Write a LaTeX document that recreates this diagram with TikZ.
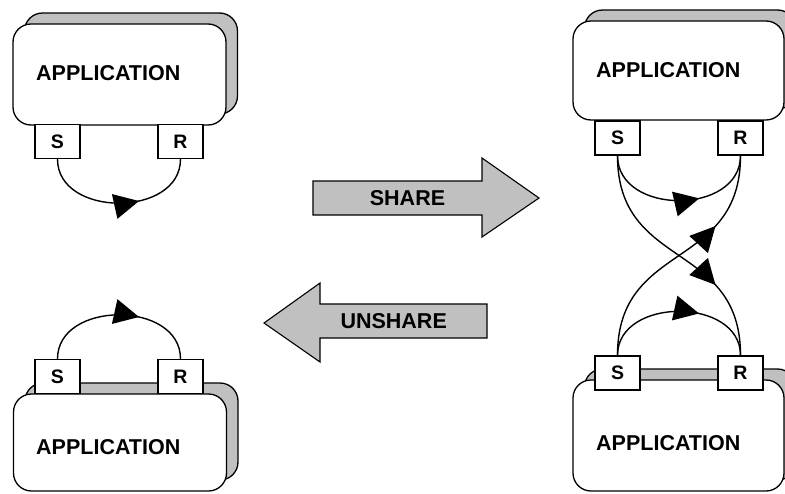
\documentclass[tikz,border=0pt]{standalone}
\usepackage{fontspec}
\setmainfont{Liberation Sans}
\usetikzlibrary{arrows.meta,decorations.markings}
\definecolor{shgray}{RGB}{192,192,192}
\begin{document}
\begin{tikzpicture}[x=1pt,y=-1pt,
  shadowbox/.style={draw,line width=1.3pt,rounded corners=18pt,fill=shgray,inner sep=0pt},
  appbox/.style={draw,line width=1.3pt,rounded corners=18pt,fill=white,inner sep=0pt},
  apptext/.style={anchor=west,inner sep=0pt,font=\bfseries\fontsize{21.5}{24}\selectfont},
  port/.style={draw,line width=1.3pt,fill=white,minimum width=45pt,minimum height=34pt,inner sep=0pt,font=\bfseries\fontsize{19.5}{22}\selectfont},
  link/.style={line width=1.4pt},
  midarrow/.style={postaction={decorate,decoration={markings,mark=at position #1 with {\arrow{Triangle[length=25pt,width=25pt]}}}}},
  blockarrow/.style={draw,line width=1.1pt,fill=shgray},
  arrowtext/.style={inner sep=0pt,font=\bfseries\fontsize{21.5}{24}\selectfont}]
\useasboundingbox (0,0) rectangle (785,493);
\clip (0,0) rectangle (785,493);

% top-left application
\node[shadowbox,minimum width=213pt,minimum height=101pt] (sh1) at (131,63.5) {};
\node[appbox,minimum width=213pt,minimum height=101pt] (app1) at (119.5,74.5) {};
\node[apptext] (t1) at (36,73) {APPLICATION};
\node[port] (S1) at (57.5,141.5) {S};
\node[port] (R1) at (180.5,141.5) {R};
\draw[link,midarrow=0.62] (S1.south) .. controls +(0,58.7) and +(0,58.7) .. (R1.south);

% bottom-left application
\node[shadowbox,minimum width=213pt,minimum height=97pt] (sh2) at (131.5,431.5) {};
\node[appbox,minimum width=213pt,minimum height=97pt] (app2) at (120,442.5) {};
\node[apptext] (t2) at (36,447) {APPLICATION};
\node[port] (S2) at (57.5,376.5) {S};
\node[port] (R2) at (180.5,376.5) {R};
\draw[link,midarrow=0.62] (S2.north) .. controls +(0,-58.7) and +(0,-58.7) .. (R2.north);

% top-right application
\node[shadowbox,minimum width=211pt,minimum height=99pt] (sh3) at (690,59.5) {};
\node[appbox,minimum width=211pt,minimum height=99pt] (app3) at (678.5,70.5) {};
\node[apptext] (t3) at (596,70) {APPLICATION};

% bottom-right application
\node[shadowbox,minimum width=211pt,minimum height=111pt] (sh4) at (690,424.5) {};
\node[appbox,minimum width=211pt,minimum height=111pt] (app4) at (678.5,435.5) {};
\node[apptext] (t4) at (596,443) {APPLICATION};

\node[port] (S3) at (617.5,138) {S};
\node[port] (R3) at (740.5,138) {R};
\node[port] (S4) at (617.5,373) {S};
\node[port] (R4) at (740.5,373) {R};

\draw[link,midarrow=0.62] (S3.south) .. controls +(0,60) and +(0,60) .. (R3.south);
\draw[link,midarrow=0.62] (S4.north) .. controls +(0,-58.7) and +(0,-58.7) .. (R4.north);
\draw[link,midarrow=0.69] (S3.south) .. controls +(0,115) and +(0,-115) .. (R4.north);
\draw[link,midarrow=0.69] (S4.north) .. controls +(0,-115) and +(0,115) .. (R3.south);

% block arrows
\draw[blockarrow] (313,181) -- (482,181) -- (482,158) -- (539,198) -- (482,237) -- (482,215) -- (313,215) -- cycle;
\node[arrowtext] (share) at (407.5,198) {SHARE};
\draw[blockarrow] (487,304) -- (320,304) -- (320,283) -- (264,323) -- (320,362) -- (320,338) -- (487,338) -- cycle;
\node[arrowtext] (unshare) at (393.7,321.5) {UNSHARE};
\end{tikzpicture}
\end{document}
